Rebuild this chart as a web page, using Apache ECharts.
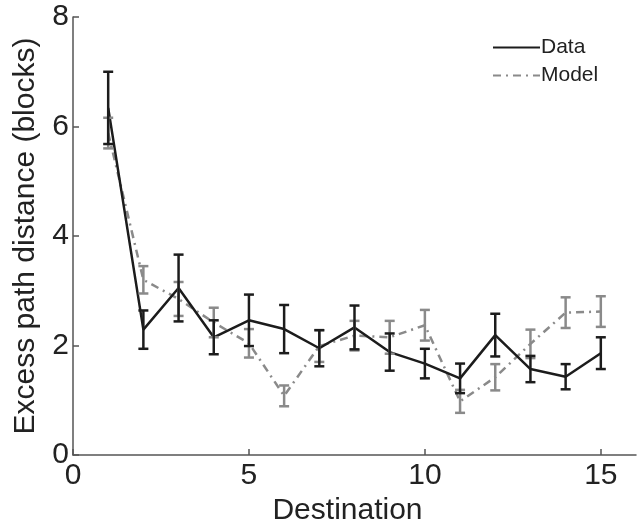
<!DOCTYPE html>
<html>
<head>
<meta charset="utf-8">
<script src="https://cdn.jsdelivr.net/npm/echarts@6/dist/echarts.min.js"></script>
<style>
  html, body { margin: 0; padding: 0; background: #fff; }
  #chart { width: 641px; height: 521px; }
</style>
</head>
<body>
<div id="chart"></div>
<script>
// Destinations 1..15
const destinations = [1, 2, 3, 4, 5, 6, 7, 8, 9, 10, 11, 12, 13, 14, 15];
// Observed excess path distance (blocks) and its standard error
const dataMean = [6.34, 2.29, 3.05, 2.15, 2.46, 2.30, 1.95, 2.33, 1.88, 1.67, 1.40, 2.19, 1.57, 1.43, 1.86];
const dataErr  = [0.66, 0.35, 0.61, 0.31, 0.47, 0.44, 0.33, 0.40, 0.34, 0.27, 0.27, 0.39, 0.24, 0.23, 0.29];
// Model prediction and its standard error
const modelMean = [5.88, 3.20, 2.85, 2.42, 2.04, 1.08, 1.99, 2.18, 2.15, 2.37, 0.98, 1.42, 2.03, 2.60, 2.62];
const modelErr  = [0.28, 0.25, 0.31, 0.27, 0.26, 0.19, 0.29, 0.27, 0.30, 0.28, 0.21, 0.24, 0.26, 0.28, 0.28];
const xTicks = [0, 5, 10, 15];

const FONT = "'Liberation Sans', Arial, Helvetica, sans-serif";
const DATA_COLOR = '#1c1c1c';
const MODEL_COLOR = '#8a8a8a';

function errorRows(mean, err) {
  return destinations.map((d, i) => [d, mean[i] - err[i], mean[i] + err[i]]);
}

function errorBarRenderer(color) {
  return function (params, api) {
    const x = api.value(0);
    const lo = api.coord([x, api.value(1)]);
    const hi = api.coord([x, api.value(2)]);
    const half = 5;
    const style = { stroke: color, lineWidth: 2.5, fill: null };
    return {
      type: 'group',
      children: [
        { type: 'line', shape: { x1: lo[0], y1: lo[1], x2: hi[0], y2: hi[1] }, style: style },
        { type: 'line', shape: { x1: hi[0] - half, y1: hi[1], x2: hi[0] + half, y2: hi[1] }, style: style },
        { type: 'line', shape: { x1: lo[0] - half, y1: lo[1], x2: lo[0] + half, y2: lo[1] }, style: style }
      ]
    };
  };
}

const chart = echarts.init(document.getElementById('chart'), null, { renderer: 'canvas' });

chart.setOption({
  animation: false,
  backgroundColor: '#fff',
  grid: { left: 73, right: 5, top: 17, bottom: 66, containLabel: false, outerBoundsMode: 'none' },
  legend: {
    left: 487,
    top: 32,
    orient: 'vertical',
    itemWidth: 47,
    itemHeight: 14,
    itemGap: 7,
    data: ['Data', 'Model'],
    itemStyle: { opacity: 0 },
    textStyle: { fontFamily: FONT, fontSize: 21, color: '#222', padding: [0, 0, 0, -4] }
  },
  xAxis: {
    type: 'value',
    min: 0,
    max: 16,
    name: 'Destination',
    nameLocation: 'middle',
    nameGap: 36,
    nameTextStyle: { fontFamily: FONT, fontSize: 30, color: '#222', padding: [0, 14, 0, 0] },
    axisLine: { show: true, onZero: false, lineStyle: { color: '#555', width: 1.5 } },
    axisTick: { show: true, inside: true, length: 6, customValues: xTicks, lineStyle: { color: '#555', width: 1.5 } },
    axisLabel: { customValues: xTicks, fontFamily: FONT, fontSize: 30, color: '#222', margin: 6 },
    splitLine: { show: false }
  },
  yAxis: {
    type: 'value',
    min: 0,
    max: 8,
    interval: 2,
    name: 'Excess path distance (blocks)',
    nameLocation: 'middle',
    nameGap: 32,
    nameTextStyle: { fontFamily: FONT, fontSize: 30, color: '#222' },
    axisLine: { show: true, lineStyle: { color: '#555', width: 1.5 } },
    axisTick: { show: true, inside: true, length: 6, lineStyle: { color: '#555', width: 1.5 } },
    axisLabel: { fontFamily: FONT, fontSize: 30, color: '#222', margin: 4 },
    splitLine: { show: false }
  },
  series: [
    {
      name: 'Data',
      type: 'line',
      data: destinations.map((d, i) => [d, dataMean[i]]),
      symbol: 'none',
      color: DATA_COLOR,
      lineStyle: { color: DATA_COLOR, width: 2.5 },
      z: 3
    },
    {
      name: 'Model',
      type: 'line',
      data: destinations.map((d, i) => [d, modelMean[i]]),
      symbol: 'none',
      color: MODEL_COLOR,
      lineStyle: { color: MODEL_COLOR, width: 2.5, type: [8, 5, 2, 5] },
      z: 2
    },
    {
      name: 'Model error',
      type: 'custom',
      renderItem: errorBarRenderer(MODEL_COLOR),
      data: errorRows(modelMean, modelErr),
      encode: { x: 0, y: [1, 2] },
      z: 4
    },
    {
      name: 'Data error',
      type: 'custom',
      renderItem: errorBarRenderer(DATA_COLOR),
      data: errorRows(dataMean, dataErr),
      encode: { x: 0, y: [1, 2] },
      z: 5
    }
  ]
});
</script>
</body>
</html>
